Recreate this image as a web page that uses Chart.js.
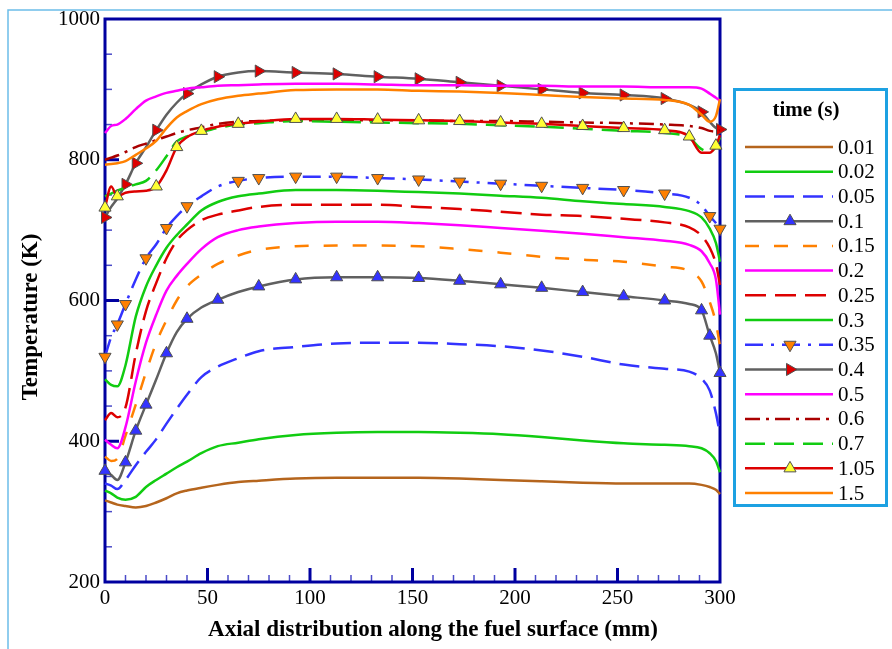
<!DOCTYPE html>
<html>
<head>
<meta charset="utf-8">
<script src="https://cdn.jsdelivr.net/npm/chart.js@4.4.1/dist/chart.umd.min.js"></script>
<style>
  html, body { margin: 0; padding: 0; background: #ffffff; }
  #wrap { width: 892px; height: 649px; position: relative; }
  canvas { display: block; }
</style>
</head>
<body>
<div id="wrap"><canvas id="c" width="892" height="649"></canvas></div>
<script>
// ---- data ----
const xs = [0, 3, 6, 10, 15, 20, 25, 30, 35, 40, 47, 55, 65, 75, 93, 113, 133, 153, 173, 193, 213, 233, 253, 273, 285, 291, 295, 298, 300];
const timeLabels = ['0.01', '0.02', '0.05', '0.1', '0.15', '0.2', '0.25', '0.3', '0.35', '0.4', '0.5', '0.6', '0.7', '1.05', '1.5'];

const s001 = [316, 313, 310, 308, 306, 308, 313, 319, 326, 330, 334, 338, 342, 344, 347, 348, 348, 348, 347, 345, 343, 341, 340, 340, 340, 338, 335, 331, 325];
const s002 = [330, 326, 320, 317, 321, 335, 345, 354, 363, 371, 383, 393, 398, 403, 409, 412, 413, 413, 412, 410, 406, 401, 397, 395, 393, 390, 383, 372, 356];
const s005 = [340, 337, 332, 345, 366, 385, 403, 425, 446, 466, 491, 506, 518, 528, 534, 539, 540, 540, 538, 535, 529, 520, 509, 503, 499, 489, 472, 440, 410];
const s010 = [358, 352, 345, 370, 415, 452, 488, 525, 555, 574, 590, 601, 612, 620, 630, 633, 633, 632, 628, 623, 618, 612, 606, 600, 595, 586, 550, 525, 497];
const s015 = [378, 372, 375, 408, 452, 498, 540, 572, 600, 620, 637, 652, 664, 672, 677, 678, 678, 677, 673, 668, 662, 658, 655, 648, 642, 627, 598, 568, 535];
const s020 = [402, 395, 390, 420, 485, 540, 580, 614, 635, 652, 673, 690, 700, 705, 710, 712, 712, 710, 707, 703, 699, 695, 690, 685, 679, 670, 653, 630, 580];
const s025 = [430, 440, 434, 448, 524, 585, 625, 660, 685, 700, 714, 722, 728, 733, 736, 736, 736, 733, 730, 726, 722, 720, 716, 711, 704, 692, 675, 652, 622];
const s030 = [488, 480, 478, 508, 577, 620, 650, 675, 693, 708, 728, 740, 748, 752, 757, 757, 756, 754, 752, 749, 746, 741, 737, 733, 727, 718, 702, 682, 655];
const s035 = [520, 548, 566, 595, 630, 660, 680, 703, 720, 734, 748, 762, 770, 774, 776, 776, 774, 772, 769, 766, 763, 760, 757, 752, 746, 735, 720, 710, 702];
const s040 = [718, 733, 745, 765, 795, 818, 842, 864, 881, 894, 907, 918, 924, 926, 924, 922, 918, 915, 910, 905, 900, 895, 892, 887, 878, 868, 854, 845, 843];
const s050 = [838, 848, 850, 858, 872, 884, 890, 895, 898, 901, 903, 905, 906, 907, 908, 908, 907, 906, 906, 905, 905, 904, 904, 903, 903, 901, 894, 888, 884];
const s060 = [800, 803, 806, 811, 818, 823, 828, 833, 838, 842, 846, 851, 854, 855, 856, 856, 856, 856, 855, 855, 854, 853, 852, 850, 848, 845, 841, 840, 842];
const s070 = [748, 752, 756, 760, 765, 770, 785, 805, 826, 833, 839, 845, 850, 852, 855, 854, 853, 852, 851, 849, 847, 844, 841, 838, 831, 815, 812, 818, 832];
const s105 = [732, 762, 748, 753, 755, 756, 762, 785, 818, 832, 841, 847, 851, 854, 858, 858, 857, 856, 855, 853, 851, 848, 845, 842, 833, 810, 810, 820, 835];
const s150 = [793, 794, 795, 798, 807, 816, 827, 845, 860, 869, 879, 886, 891, 894, 899, 900, 900, 898, 897, 895, 892, 889, 887, 885, 878, 864, 854, 862, 886];

// indices (into xs) where symbols are shown
const mk010 = [0, 3, 4, 5, 7, 9, 11, 13, 14, 15, 16, 17, 18, 19, 20, 21, 22, 23, 25, 26, 28];
const mk035 = [0, 2, 3, 5, 7, 9, 12, 13, 14, 15, 16, 17, 18, 19, 20, 21, 22, 23, 26, 28];
const mk040 = [0, 3, 4, 6, 9, 11, 13, 14, 15, 16, 17, 18, 19, 20, 21, 22, 23, 25, 28];
const mk105 = [0, 2, 6, 8, 10, 12, 14, 15, 16, 17, 18, 19, 20, 21, 22, 23, 24, 27];

// ---- styles ----
const FONT = "'Liberation Serif', 'Times New Roman', serif";
const NAVY = '#0000a0';
const styles = [
  { v: s001, color: '#b5651d', dash: [] },
  { v: s002, color: '#11cc11', dash: [] },
  { v: s005, color: '#3333ff', dash: [20, 9] },
  { v: s010, color: '#606060', dash: [], mk: mk010, mFill: '#3333ff', rot: 0 },
  { v: s015, color: '#ff8000', dash: [14, 15] },
  { v: s020, color: '#ff00ff', dash: [] },
  { v: s025, color: '#dd0000', dash: [21, 9] },
  { v: s030, color: '#11cc11', dash: [] },
  { v: s035, color: '#3333ff', dash: [18, 8, 3, 8], mk: mk035, mFill: '#ff8000', rot: 180 },
  { v: s040, color: '#606060', dash: [], mk: mk040, mFill: '#dd0000', rot: 90 },
  { v: s050, color: '#ff00ff', dash: [] },
  { v: s060, color: '#aa0000', dash: [15, 6, 3, 6] },
  { v: s070, color: '#11cc11', dash: [20, 9] },
  { v: s105, color: '#dd0000', dash: [], mk: mk105, mFill: '#ffff33', rot: 0 },
  { v: s150, color: '#ff8000', dash: [] }
];

const N = styles.length;
const datasets = styles.map((s, i) => {
  const radii = xs.map((_, k) => (s.mk && s.mk.includes(k)) ? 7 : 0);
  return {
    label: timeLabels[i],
    data: xs.map((x, k) => ({ x: x, y: s.v[k] })),
    borderColor: s.color,
    backgroundColor: s.color,
    borderWidth: 2.5,
    borderDash: s.dash,
    fill: false,
    cubicInterpolationMode: 'monotone',
    pointRadius: radii,
    pointHoverRadius: radii,
    pointStyle: 'triangle',
    rotation: s.rot || 0,
    pointBackgroundColor: s.mFill || s.color,
    pointBorderColor: '#505050',
    pointBorderWidth: 1,
    clip: false,
    order: N - i
  };
});

function tri(ctx, x, y, r, rotDeg) {
  let a = rotDeg * Math.PI / 180;
  ctx.beginPath();
  for (let j = 0; j < 3; j++) {
    const px = x + Math.sin(a) * r, py = y - Math.cos(a) * r;
    if (j === 0) ctx.moveTo(px, py); else ctx.lineTo(px, py);
    a += 2 * Math.PI / 3;
  }
  ctx.closePath();
}

const deco = {
  id: 'deco',
  beforeDatasetsDraw(chart) {
    const ctx = chart.ctx, a = chart.chartArea;
    const xS = chart.scales.x, yS = chart.scales.y;
    ctx.save();
    // outer light-blue frame
    ctx.strokeStyle = '#6cbde9';
    ctx.lineWidth = 1.5;
    ctx.beginPath();
    ctx.moveTo(8, 649); ctx.lineTo(8, 10); ctx.lineTo(892, 10);
    ctx.stroke();
    // ticks (inside)
    ctx.lineCap = 'butt';
    for (let v = 250; v < 1000; v += 50) {
      const y = yS.getPixelForValue(v);
      const major = v % 200 === 0;
      ctx.strokeStyle = major ? NAVY : '#4b4bc8';
      ctx.lineWidth = major ? 3 : 1.5;
      ctx.beginPath(); ctx.moveTo(a.left, y); ctx.lineTo(a.left + (major ? 14 : 7), y); ctx.stroke();
    }
    for (let v = 10; v < 300; v += 10) {
      const x = xS.getPixelForValue(v);
      const major = v % 50 === 0;
      ctx.strokeStyle = major ? NAVY : '#4b4bc8';
      ctx.lineWidth = major ? 3 : 1.5;
      ctx.beginPath(); ctx.moveTo(x, a.bottom); ctx.lineTo(x, a.bottom - (major ? 14 : 7)); ctx.stroke();
    }
    // plot frame
    ctx.strokeStyle = NAVY;
    ctx.lineWidth = 3;
    ctx.strokeRect(a.left, a.top, a.right - a.left, a.bottom - a.top);
    ctx.restore();
  },
  afterDraw(chart) {
    const ctx = chart.ctx;
    ctx.save();
    // axis titles
    ctx.fillStyle = '#000';
    ctx.font = "bold 23px " + FONT;
    ctx.textAlign = 'center';
    ctx.textBaseline = 'middle';
    ctx.fillText('Axial distribution along the fuel surface (mm)', 433, 630);
    ctx.save();
    ctx.translate(31, 317);
    ctx.rotate(-Math.PI / 2);
    ctx.fillText('Temperature (K)', 0, 0);
    ctx.restore();
    // legend box
    ctx.strokeStyle = '#1da1e2';
    ctx.lineWidth = 3;
    ctx.strokeRect(734.5, 89.5, 152, 416);
    ctx.font = "bold 21px " + FONT;
    ctx.fillText('time (s)', 806, 111);
    ctx.font = "21px " + FONT;
    ctx.textAlign = 'left';
    styles.forEach((s, i) => {
      const y = 147 + i * 24.72;
      ctx.strokeStyle = s.color;
      ctx.lineWidth = 2.5;
      ctx.setLineDash(s.dash);
      ctx.beginPath(); ctx.moveTo(745, y); ctx.lineTo(833, y); ctx.stroke();
      ctx.setLineDash([]);
      if (s.mk) {
        tri(ctx, 790, y, 7, s.rot || 0);
        ctx.fillStyle = s.mFill; ctx.fill();
        ctx.strokeStyle = '#505050'; ctx.lineWidth = 1; ctx.stroke();
      }
      ctx.fillStyle = '#000';
      ctx.fillText(timeLabels[i], 838, y + 1);
    });
    ctx.restore();
  }
};

new Chart(document.getElementById('c'), {
  type: 'line',
  data: { datasets: datasets },
  options: {
    responsive: false,
    animation: false,
    devicePixelRatio: 1,
    layout: { padding: { left: 0, right: 172, top: 19, bottom: 0 } },
    plugins: { legend: { display: false }, tooltip: { enabled: false }, title: { display: false } },
    events: [],
    scales: {
      x: {
        type: 'linear', min: 0, max: 300,
        grid: { display: false, drawTicks: false },
        border: { display: false },
        ticks: { stepSize: 50, color: '#000', padding: 4, maxRotation: 0, font: { family: FONT, size: 21 },
                 callback: (v) => String(v) },
        afterFit(s) { s.height = 67; }
      },
      y: {
        type: 'linear', min: 200, max: 1000,
        grid: { display: false, drawTicks: false },
        border: { display: false },
        ticks: { stepSize: 200, color: '#000', padding: 5, font: { family: FONT, size: 21 },
                 callback: (v) => String(v) },
        afterFit(s) { s.width = 105; }
      }
    }
  },
  plugins: [deco]
});
</script>
</body>
</html>
